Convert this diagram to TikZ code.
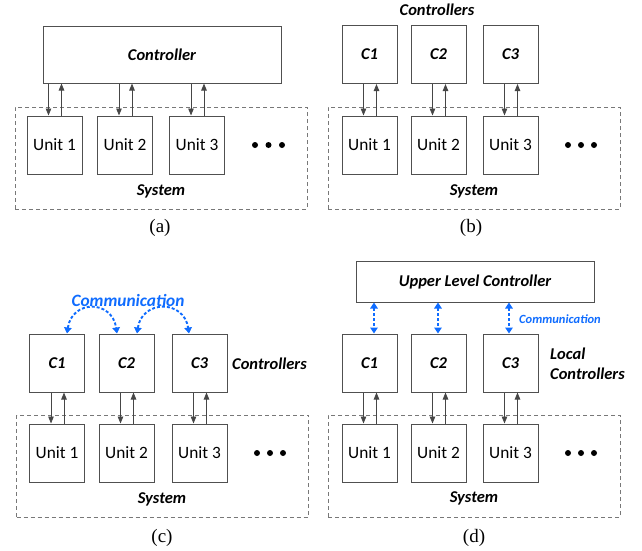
\documentclass[tikz,border=0pt]{standalone}
\usepackage{fontspec}
\setmainfont{Liberation Serif}
\newfontfamily\carl{Carlito}
\usetikzlibrary{arrows.meta}
\definecolor{boxgray}{RGB}{80,80,80}
\definecolor{dashgray}{RGB}{120,120,120}
\definecolor{arrgray}{RGB}{70,70,70}
\definecolor{commblue}{RGB}{15,108,255}
\tikzset{
  box/.style={draw=boxgray, line width=1pt, minimum width=55pt, minimum height=58pt, inner sep=0pt,
    font=\carl\fontsize{17.3}{19}\selectfont},
  cbox/.style={box, font=\carl\bfseries\itshape\fontsize{16.5}{18}\selectfont},
  sysbox/.style={draw=dashgray, line width=0.9pt, dash pattern=on 4pt off 3pt, minimum width=292pt, minimum height=102pt, inner sep=0pt},
  lbl/.style={font=\carl\bfseries\itshape\fontsize{16.5}{18}\selectfont, inner sep=0pt},
  capt/.style={font=\fontsize{19}{21}\selectfont, inner sep=0pt},
  arr/.style={draw=arrgray, line width=0.9pt, -{Triangle[length=7pt,width=5.5pt]}},
  comm/.style={draw=commblue, line width=1.9pt, dash pattern=on 3pt off 2pt,
    {Triangle[length=6pt,width=7.5pt]}-{Triangle[length=6pt,width=7.5pt]}},
  dotfill/.style={fill=black}
}
\begin{document}
\begin{tikzpicture}[x=1pt,y=-1pt]
\useasboundingbox (0,0) rectangle (642,550);
% ---------------- (a)
\node[sysbox] (asys) at (161,158) {};
\node[cbox, minimum width=238pt, minimum height=57pt] (actrl) at (162,54.5) {Controller};
\node[box] (au1) at (54.5,145) {Unit 1};
\node[box] (au2) at (125,145) {Unit 2};
\node[box] (au3) at (197,145) {Unit 3};
\foreach \i in {1,2,3}{
  \path (actrl.south -| au\i.north) coordinate (at\i);
  \draw[arr] ([xshift=-6pt]at\i) -- ([xshift=-6pt]au\i.north);
  \draw[arr] ([xshift=7pt]au\i.north) -- ([xshift=7pt]at\i);
}
\foreach \x in {255,268.5,282} \fill[dotfill] (\x,145) circle (3);
\node[lbl] (asyslbl) at (161,191) {System};
\node[capt] (acap) at (160,228) {(a)};
% ---------------- (b)
\node[sysbox] (bsys) at (474,158) {};
\node[cbox] (bc1) at (369.5,54.5) {C1};
\node[cbox] (bc2) at (438.5,54.5) {C2};
\node[cbox] (bc3) at (510.5,54.5) {C3};
\node[box] (bu1) at (369.5,145) {Unit 1};
\node[box] (bu2) at (438.5,145) {Unit 2};
\node[box] (bu3) at (510.5,145) {Unit 3};
\foreach \i in {1,2,3}{
  \draw[arr] ([xshift=-6pt]bc\i.south) -- ([xshift=-6pt]bu\i.north);
  \draw[arr] ([xshift=7pt]bu\i.north) -- ([xshift=7pt]bc\i.south);
}
\foreach \x in {568,581,594} \fill[dotfill] (\x,145) circle (3);
\node[lbl] (bctl) at (437,10) {Controllers};
\node[lbl] (bsyslbl) at (474,191) {System};
\node[capt] (bcap) at (471,228) {(b)};
% ---------------- (c)
\node[sysbox] (csys) at (162.5,466) {};
\node[cbox] (cc1) at (57,363) {C1};
\node[cbox] (cc2) at (126.5,363) {C2};
\node[cbox] (cc3) at (199.5,363) {C3};
\node[box] (cu1) at (57,453) {Unit 1};
\node[box] (cu2) at (126.5,453) {Unit 2};
\node[box] (cu3) at (199.5,453) {Unit 3};
\foreach \i in {1,2,3}{
  \draw[arr] ([xshift=-6pt]cc\i.south) -- ([xshift=-6pt]cu\i.north);
  \draw[arr] ([xshift=7pt]cu\i.north) -- ([xshift=7pt]cc\i.south);
}
\draw[comm] ([xshift=10pt]cc1.north) .. controls +(5,-34) and +(-5,-34) .. ([xshift=-9.5pt]cc2.north);
\draw[comm] ([xshift=10.5pt]cc2.north) .. controls +(5,-34) and +(-5,-34) .. ([xshift=-10.5pt]cc3.north);
\foreach \x in {257,270,283} \fill[dotfill] (\x,453) circle (3);
\node[lbl, text=commblue, font=\carl\bfseries\itshape\fontsize{17.3}{19}\selectfont] (ccomm) at (128,300) {Communication};
\node[lbl] (cctl) at (269.5,364) {Controllers};
\node[lbl] (csyslbl) at (162,499) {System};
\node[capt] (ccap) at (162,538) {(c)};
% ---------------- (d)
\node[sysbox] (dsys) at (474,466) {};
\node[cbox, minimum width=238pt, minimum height=41pt] (dulc) at (475,281.5) {Upper Level Controller};
\node[cbox] (dc1) at (369.5,363) {C1};
\node[cbox] (dc2) at (438.5,363) {C2};
\node[cbox] (dc3) at (510.5,363) {C3};
\node[box] (du1) at (369.5,453) {Unit 1};
\node[box] (du2) at (438.5,453) {Unit 2};
\node[box] (du3) at (510.5,453) {Unit 3};
\foreach \i in {1,2,3}{
  \draw[arr] ([xshift=-6pt]dc\i.south) -- ([xshift=-6pt]du\i.north);
  \draw[arr] ([xshift=7pt]du\i.north) -- ([xshift=7pt]dc\i.south);
}
\path ([xshift=4.5pt]dc1.north) coordinate (dp1);
\path ([xshift=-0.5pt]dc2.north) coordinate (dp2);
\path ([xshift=-1.5pt]dc3.north) coordinate (dp3);
\foreach \i in {1,2,3} \draw[comm] (dp\i |- dulc.south) -- (dp\i);
\foreach \x in {568,581,594} \fill[dotfill] (\x,453) circle (3);
\node[font=\carl\bfseries\itshape\fontsize{12.5}{14}\selectfont, text=commblue, inner sep=0pt] (dcomm) at (560,319) {Communication};
\node[lbl, align=left, anchor=west, font=\carl\bfseries\itshape\fontsize{16.5}{20}\selectfont] (dloc) at (550,364) {Local\\Controllers};
\node[lbl] (dsyslbl) at (474,498) {System};
\node[capt] (dcap) at (474,538) {(d)};
\end{tikzpicture}
\end{document}
